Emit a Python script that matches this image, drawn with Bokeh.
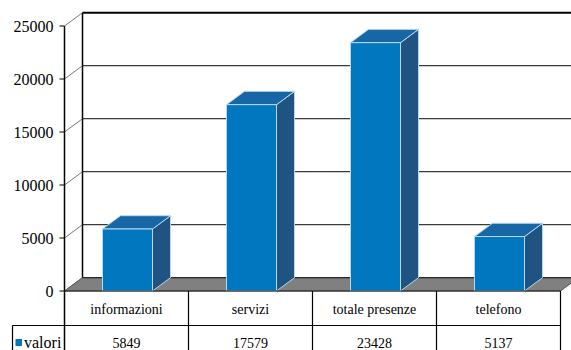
from bokeh.plotting import figure
from bokeh.models import Range1d
from bokeh.core.properties import value
from bokeh.embed import file_html
from bokeh.resources import INLINE

# --- data -------------------------------------------------------------
categories = ["informazioni", "servizi", "totale presenze", "telefono"]
valori = [5849, 17579, 23428, 5137]
series_name = "valori"
y_ticks = [0, 5000, 10000, 15000, 20000, 25000]
y_tick_labels = ["0", "5000", "10000", "15000", "20000", "25000"]

# --- geometry (pixel layout of the 571x350 canvas) ----------------------
W, H = 571, 350
X0_PX = 64.0        # front-left corner of the plot (value axis)
CAT_PX = 124.0      # width of one category column
Y0_PX = 290.5       # pixel row of value 0 on the front plane
PX_PER_UNIT = 0.0106  # pixels per unit of value
DEPTH_X_PX, DEPTH_Y_PX = 18.0, 13.3

def dx(px):
    return px / CAT_PX

def dy(px):
    return px / PX_PER_UNIT

def sx(px):
    return (px - X0_PX) / CAT_PX

def sy(py):
    return (Y0_PX - py) / PX_PER_UNIT

DX, DY = dx(DEPTH_X_PX), dy(DEPTH_Y_PX)
N = len(categories)
YMAX = y_ticks[-1]

def serif():
    return value("Liberation Serif")

FRONT = "#0077be"
TOP = "#1767a7"
SIDE = "#1f5482"
EDGE = "#b9d7ee"

p = figure(width=W, height=H, output_backend="svg", toolbar_location=None,
           x_axis_type=None, y_axis_type=None, min_border=0,
           x_range=Range1d(sx(0), sx(W)), y_range=Range1d(sy(H), sy(0)))
p.grid.visible = False
p.outline_line_color = None
p.background_fill_color = "white"
p.border_fill_color = "white"

# back wall: gridlines and top border
right = sx(W)
p.segment(x0=[DX] * (len(y_ticks) - 2), y0=[t + DY for t in y_ticks[1:-1]],
          x1=[right] * (len(y_ticks) - 2), y1=[t + DY for t in y_ticks[1:-1]],
          line_color="#3a3a3a", line_width=1.2)
p.segment(x0=[DX], y0=[YMAX + DY], x1=[right], y1=[YMAX + DY],
          line_color="black", line_width=2)

# side wall: vertical edge and diagonal tick lines
p.segment(x0=[DX], y0=[DY], x1=[DX], y1=[YMAX + DY],
          line_color="black", line_width=1.5)
p.segment(x0=[0] * len(y_ticks), y0=y_ticks,
          x1=[DX] * len(y_ticks), y1=[t + DY for t in y_ticks],
          line_color="#555555", line_width=0.8)

# floor
p.patch(x=[0, N, N + DX, DX], y=[0, 0, DY, DY],
        fill_color="#808080", line_color="#555555", line_width=1)
p.segment(x0=[DX], y0=[DY], x1=[N + DX], y1=[DY],
          line_color="#2a2a2a", line_width=1.2)

# bars (side, top, front)
half = dx(25)
shift = dx(1)
sides_x, sides_y, tops_x, tops_y = [], [], [], []
lefts, rights = [], []
for i, v in enumerate(valori):
    c = i + 0.5 + shift
    L, R = c - half, c + half
    lefts.append(L)
    rights.append(R)
    sides_x.append([R, R + DX, R + DX, R])
    sides_y.append([0, DY, v + DY, v])
    tops_x.append([L, R, R + DX, L + DX])
    tops_y.append([v, v, v + DY, v + DY])
p.patches(xs=sides_x, ys=sides_y, fill_color=SIDE, line_color=EDGE, line_width=1)
p.patches(xs=tops_x, ys=tops_y, fill_color=TOP, line_color=EDGE, line_width=1)
p.quad(left=lefts, right=rights, bottom=[0] * N, top=valori,
       fill_color=FRONT, line_color=EDGE, line_width=1)

# value axis: line, ticks and labels
bottom = sy(H)
p.segment(x0=[0], y0=[YMAX], x1=[0], y1=[bottom], line_color="black", line_width=1.5)
p.segment(x0=[dx(-5)] * len(y_ticks), y0=y_ticks, x1=[0] * len(y_ticks), y1=y_ticks,
          line_color="black", line_width=1.2)
p.text(x=[dx(-11)] * len(y_ticks), y=y_ticks, text=y_tick_labels,
       text_font=serif(), text_font_size="16px", text_align="right",
       text_baseline="middle", text_color="black")

# data table below the floor
row_sep = sy(325)
table_left = sx(12)
p.segment(x0=[0], y0=[0], x1=[N], y1=[0], line_color="#222222", line_width=1.2)
p.segment(x0=list(range(1, N + 1)), y0=[0] * N,
          x1=list(range(1, N + 1)), y1=[bottom] * N,
          line_color="black", line_width=1.2)
p.segment(x0=[table_left], y0=[row_sep], x1=[N], y1=[row_sep],
          line_color="black", line_width=1.2)
p.segment(x0=[table_left], y0=[row_sep], x1=[table_left], y1=[bottom],
          line_color="black", line_width=1.2)

centers = [i + 0.5 for i in range(N)]
p.text(x=centers, y=[sy(309)] * N, text=categories, text_font=serif(),
       text_font_size="14px", text_align="center", text_baseline="middle",
       text_color="black")
p.text(x=centers, y=[sy(342.5)] * N, text=[str(v) for v in valori], text_font=serif(),
       text_font_size="14px", text_align="center", text_baseline="middle",
       text_color="black")

# legend key in the table header cell
p.quad(left=[sx(15)], right=[sx(21.5)], bottom=[sy(345.5)], top=[sy(338.5)],
       fill_color=FRONT, line_color=None)
p.text(x=[sx(23.5)], y=[sy(342)], text=[series_name], text_font=serif(),
       text_font_size="16px", text_align="left", text_baseline="middle",
       text_color="black")

open("out.html", "w").write(file_html(p, INLINE))
